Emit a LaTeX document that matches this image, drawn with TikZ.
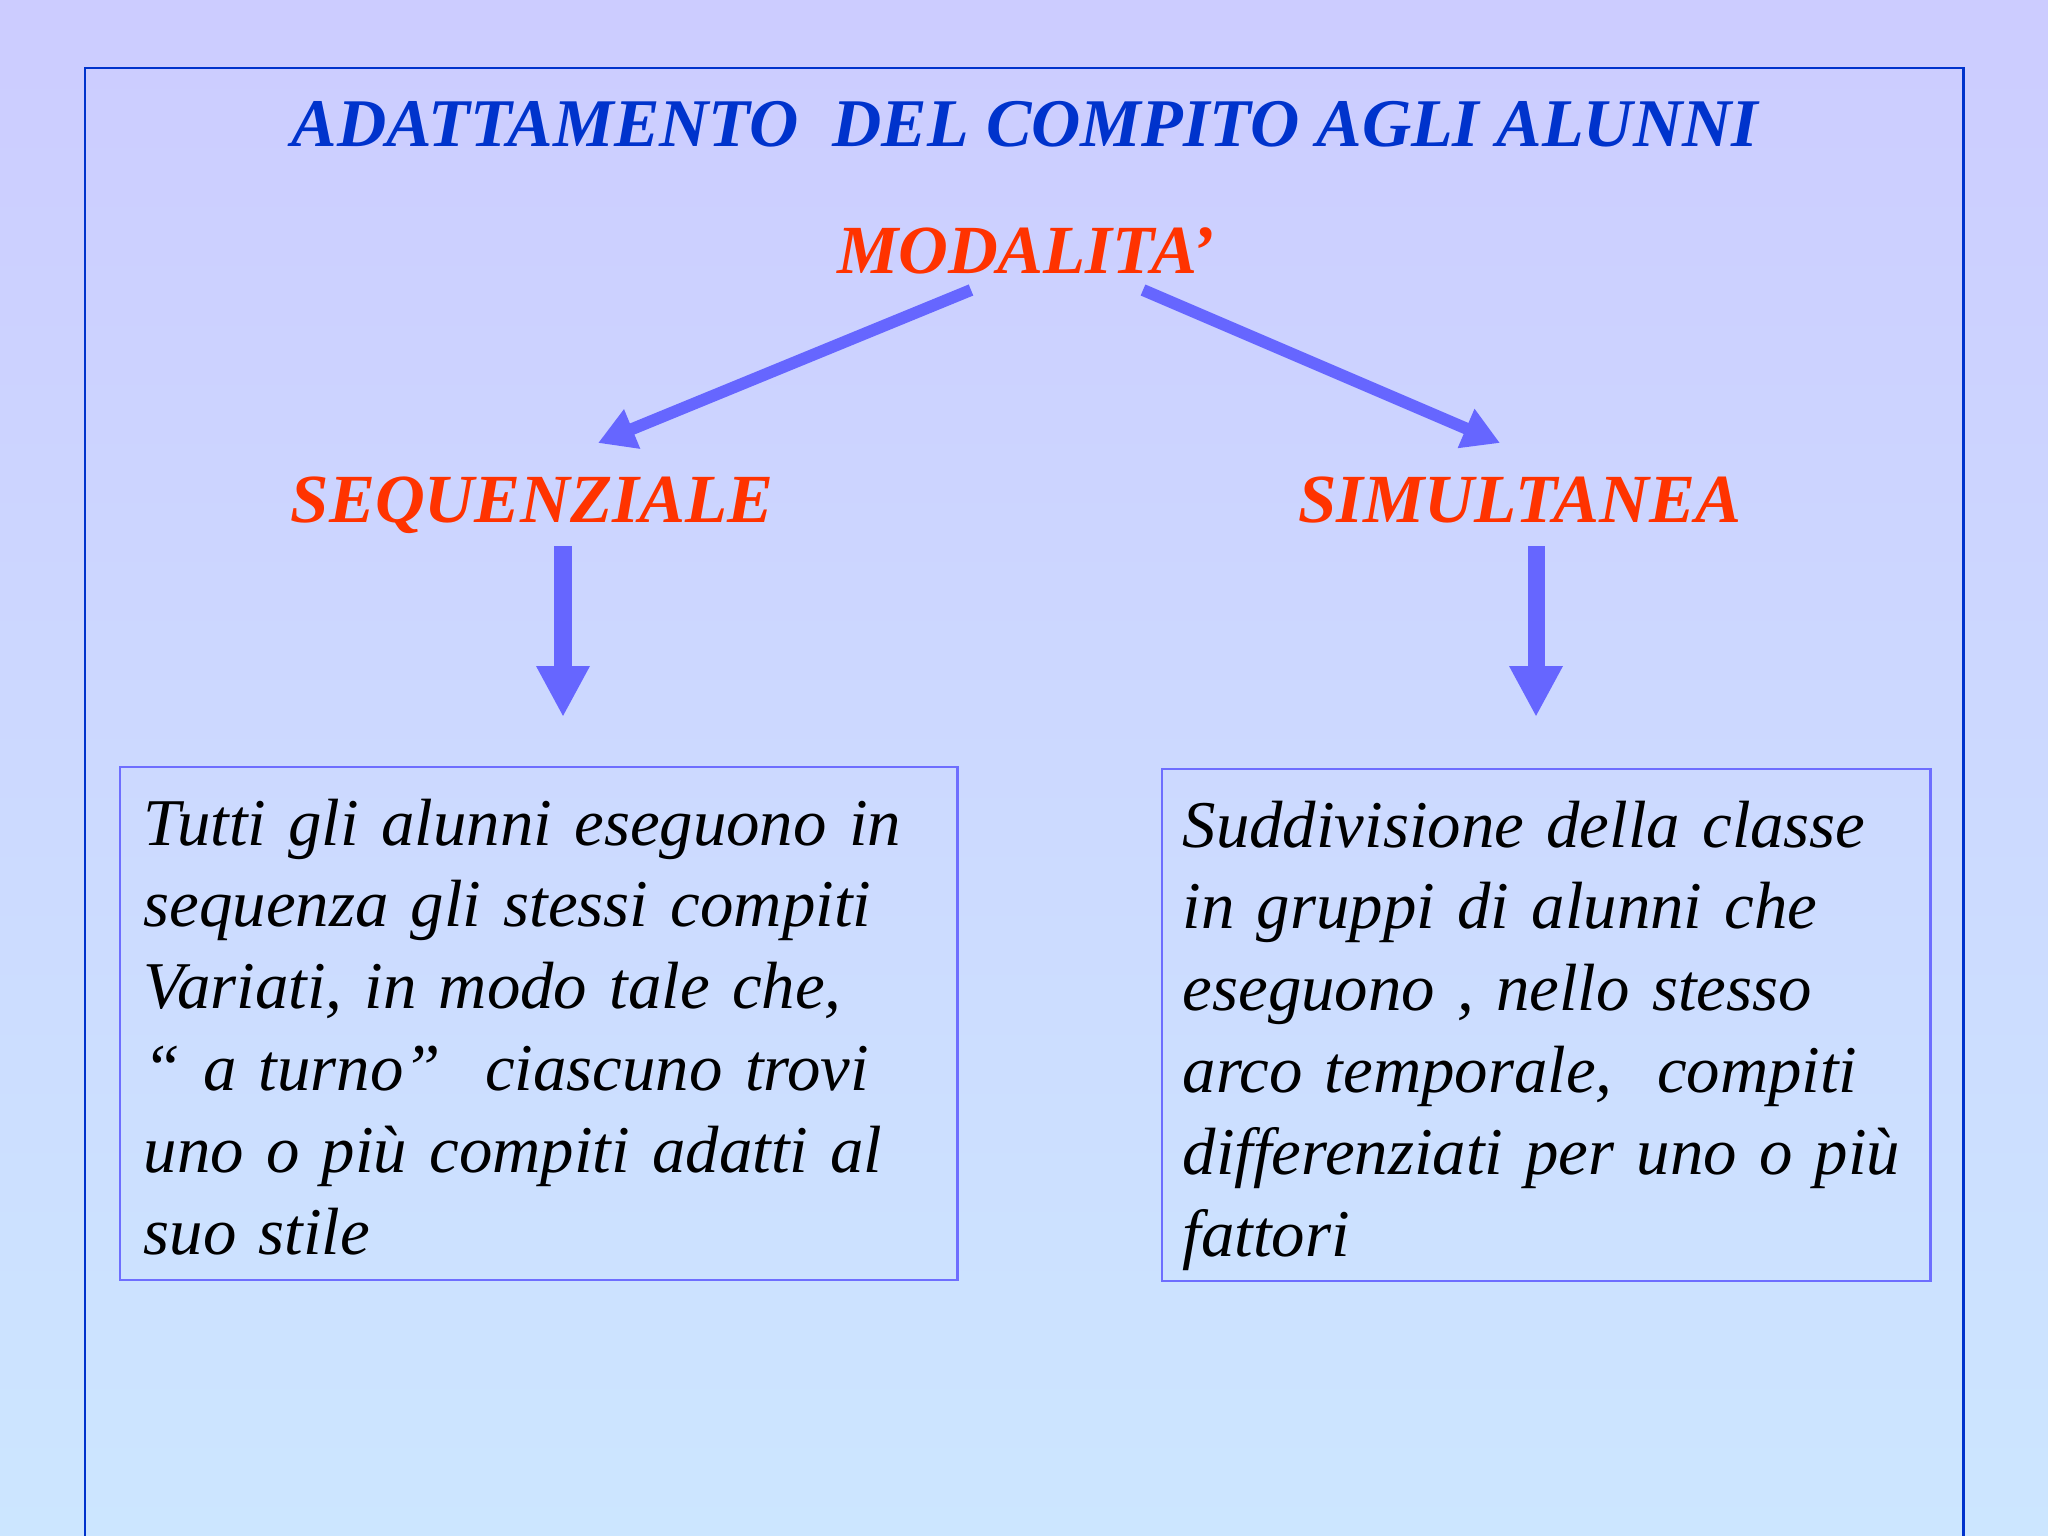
\documentclass[tikz,border=0pt]{standalone}
\usepackage{fontspec}
\setmainfont{Liberation Serif}
\usetikzlibrary{arrows.meta}
\definecolor{bgtop}{RGB}{204,204,255}
\definecolor{bgbot}{RGB}{204,230,255}
\definecolor{titleblue}{RGB}{0,51,204}
\definecolor{hdred}{RGB}{255,51,0}
\definecolor{arrowblue}{RGB}{102,102,255}
\definecolor{boxline}{RGB}{110,110,255}
\begin{document}
\begin{tikzpicture}[x=0.01cm,y=-0.01cm,
  titletext/.style={font=\fontsize{19.4pt}{23pt}\selectfont\bfseries\itshape, text=titleblue, inner sep=0pt, anchor=base},
  headtext/.style={font=\fontsize{19.6pt}{23pt}\selectfont\bfseries\itshape, text=hdred, inner sep=0pt, anchor=base},
  bodytext/.style={font=\fontsize{19.0pt}{23.3pt}\selectfont\itshape, text=black, inner sep=0pt, anchor=base west, align=left, text width=9cm},
  panel/.style={draw=boxline, line width=0.6pt, inner sep=0pt, anchor=north west},
  frameline/.style={draw=titleblue, line width=0.85pt},
  diagarrow/.style={draw=arrowblue, line width=3.4pt, -{Triangle[length=10.5pt,width=11.4pt]}},
  downarrow/.style={draw=arrowblue, line width=4.84pt, -{Triangle[length=14.5pt,width=14.2pt]}}
]
\useasboundingbox (0,0) rectangle (2048,1536);
\shade[top color=bgtop, bottom color=bgbot] (0,0) rectangle (2048,1536);
\draw[frameline] (85,1540) -- (85,68) -- (1963,68) -- (1963,1540);

\node[titletext] (title) at (1025,146) {ADATTAMENTO\ \ DEL COMPITO AGLI ALUNNI};
\node[headtext] (mod) at (1026,273) {MODALITA’};
\node[headtext] (seq) at (532,522) {SEQUENZIALE};
\node[headtext] (sim) at (1520,522) {SIMULTANEA};

\coordinate (l1) at (971,290);
\coordinate (l2) at (598,443);
\coordinate (r1) at (1143,290);
\coordinate (r2) at (1500,443);
\coordinate (d1a) at (563,546);
\coordinate (d1b) at (563,717);
\coordinate (d2a) at (1536,546);
\coordinate (d2b) at (1536,717);

\draw[diagarrow] (l1) -- (l2);
\draw[diagarrow] (r1) -- (r2);
\draw[downarrow] (d1a) -- (d1b);
\draw[downarrow] (d2a) -- (d2b);

\node[panel, minimum width=8.37cm, minimum height=5.13cm] (boxA) at (119,766) {};
\node[panel, minimum width=7.68cm, minimum height=5.12cm] (boxB) at (1161,768) {};

\node[bodytext] (txtA) at (143,845) {Tutti gli alunni eseguono in\\
sequenza gli stessi compiti\\
Variati, in modo tale che,\\
“ a turno”\ \ ciascuno trovi\\
uno o più compiti adatti al\\
suo stile};
\node[bodytext] (txtB) at (1182,847) {Suddivisione della classe\\
in gruppi di alunni che\\
eseguono , nello stesso\\
arco temporale,\ \ compiti\\
differenziati per uno o più\\
fattori};
\end{tikzpicture}
\end{document}
